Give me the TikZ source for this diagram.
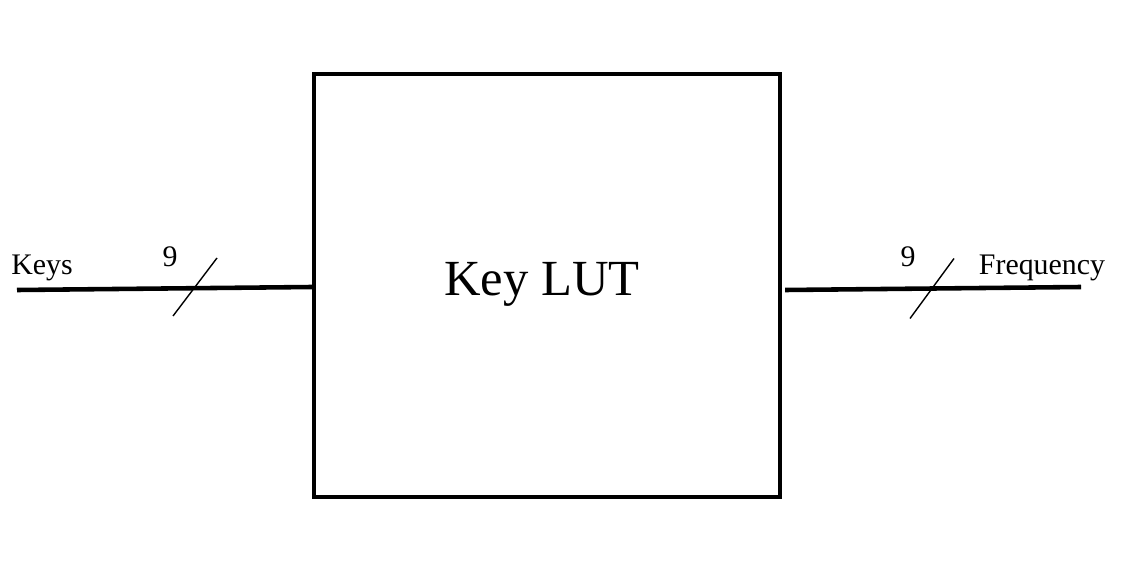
\documentclass[tikz,border=0pt]{standalone}
\usepackage{fontspec}
\setmainfont{Liberation Serif}
\usetikzlibrary{calc}

\begin{document}
\begin{tikzpicture}[x=0.02cm, y=-0.02cm]

\useasboundingbox (0,0) rectangle (1138,574);

\tikzset{
  blockbox/.style={draw, line width=2.5pt, minimum width=9.32cm, minimum height=8.46cm, inner sep=0pt},
  wire/.style={line width=2.6pt},
  buswidth/.style={line width=0.8pt},
  lbl/.style={font=\fontsize{17}{20}\selectfont, inner sep=0pt}
}

\node[blockbox] (lut) at (547,285.5) {};
\node[font=\fontsize{28.8}{34}\selectfont, inner sep=0pt] (lutname) at (542,284) {Key LUT};

\coordinate (keysin) at (17,290);
\coordinate (lutin) at ($(lut.west)+(0,1.5)$);
\coordinate (lutout) at ($(lut.east)+(3,4.5)$);
\coordinate (freqout) at (1081,287);
\coordinate (Kx) at (195,288);
\coordinate (Fx) at (932,288.5);

\draw[wire] (keysin) -- (lutin);
\draw[wire] (lutout) -- (freqout);

\draw[buswidth] ($(Kx) + (-22,28)$) -- ($(Kx) + (22,-30)$);
\draw[buswidth] ($(Fx) + (-22,30)$) -- ($(Fx) + (22,-30)$);

\node[lbl] (keys) at (42,268) {Keys};
\node[lbl] (kw) at (170,257) {9};
\node[lbl] (fw) at (908,257) {9};
\node[lbl] (freq) at (1042,268) {Frequency};

\end{tikzpicture}
\end{document}
